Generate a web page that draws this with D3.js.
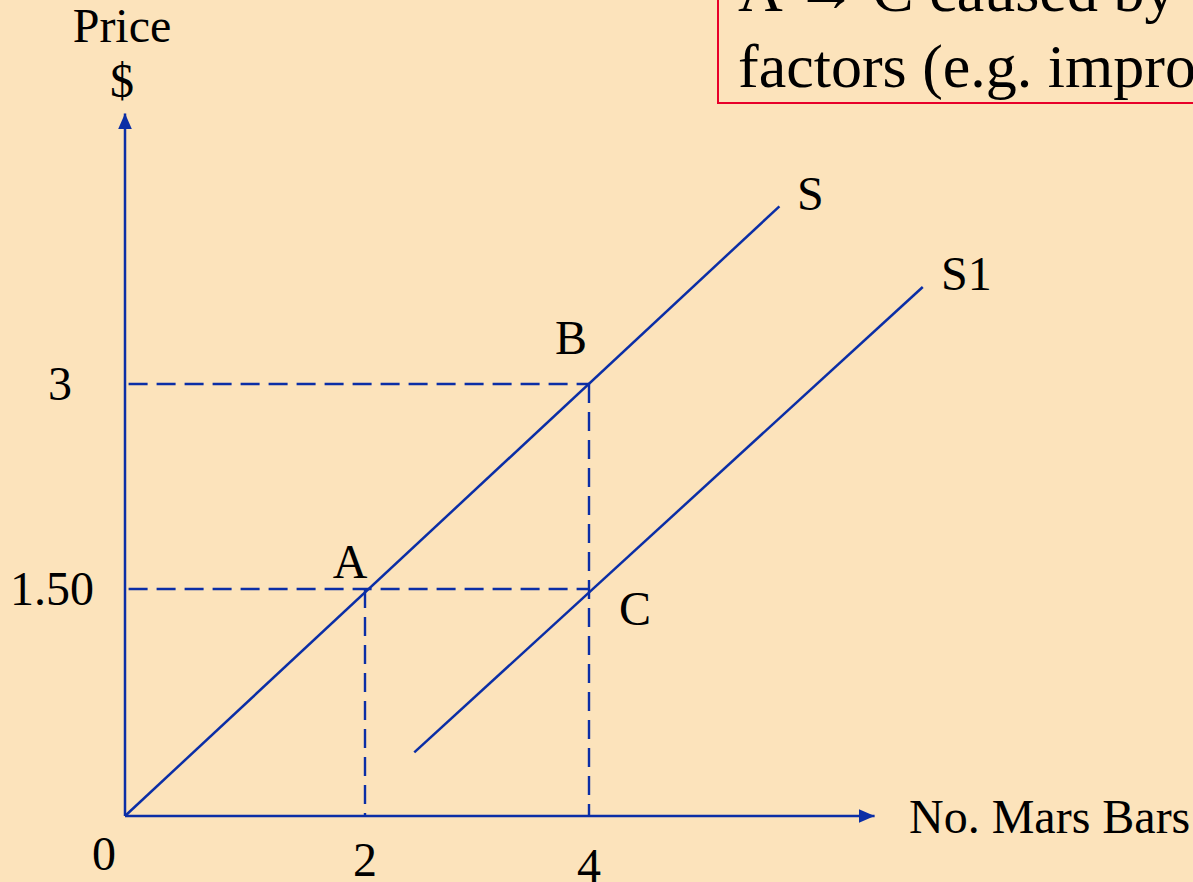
<!DOCTYPE html>
<html>
<head>
<meta charset="utf-8">
<script src="https://cdn.jsdelivr.net/npm/d3@7"></script>
<style>
  html, body { margin: 0; padding: 0; background: #fce3bb; }
  svg { display: block; }
  text { font-family: "Liberation Serif", "Times New Roman", serif; fill: #000; }
</style>
</head>
<body>
<script>
// quantities / prices
var qtyTicks = [0, 2, 4];
var qtyLabels = ["0", "2", "4"];
var priceTicks = [1.5, 3];
var priceLabels = ["1.50", "3"];

var supplyS = [{q: 0, p: 0}, {q: 5.7, p: 4.3}];
var supplyS1 = [{q: 2.44, p: 0.42}, {q: 6.98, p: 3.71}];

var pointNames = ["A", "B", "C"];
var pointQ = [2, 4, 4];
var pointP = [1.5, 3, 1.5];

var axisMax = {q: 6.55, p: 4.98};
var boxLines = ["A \u2192 C caused by other", "factors (e.g. improved"];

var width = 1193, height = 882;
var blue = "#0b2ea6";

var svg = d3.select("body").append("svg")
    .attr("width", width)
    .attr("height", height);

svg.append("rect").attr("width", width).attr("height", height).attr("fill", "#fce3bb");

// hand-drawn diagram, so the spacing isn't even -> piecewise scales
var x = d3.scaleLinear().domain([0, 2, 4]).range([125, 365, 589]);
var y = d3.scaleLinear().domain([0, 1.5, 3]).range([816, 589, 384]);

var defs = svg.append("defs");
defs.append("marker")
    .attr("id", "arrow")
    .attr("viewBox", "0 0 16 14")
    .attr("refX", 16).attr("refY", 7)
    .attr("markerWidth", 16).attr("markerHeight", 14)
    .attr("markerUnits", "userSpaceOnUse")
    .attr("orient", "auto")
  .append("path")
    .attr("d", "M0,0L16,7L0,14Z")
    .attr("fill", blue);

// dashed guides
var dash = "19,9";
var guides = [
  [{q: 0.03, p: 3}, {q: 4, p: 3}],
  [{q: 0.03, p: 1.5}, {q: 4, p: 1.5}],
  [{q: 2, p: 1.5}, {q: 2, p: 0}],
  [{q: 4, p: 3}, {q: 4, p: 0}]
];
var line = d3.line().x(d => x(d.q)).y(d => y(d.p));

svg.selectAll(".guide")
    .data(guides)
  .enter().append("path")
    .attr("class", "guide")
    .attr("d", line)
    .attr("fill", "none")
    .attr("stroke", blue)
    .attr("stroke-width", 2.4)
    .attr("stroke-dasharray", dash);

// axes
svg.append("path")
    .attr("d", line([{q: 0, p: 0}, {q: 0, p: axisMax.p}]))
    .attr("stroke", blue).attr("stroke-width", 2.5)
    .attr("marker-end", "url(#arrow)");
svg.append("path")
    .attr("d", line([{q: 0, p: 0}, {q: axisMax.q, p: 0}]))
    .attr("stroke", blue).attr("stroke-width", 2.5)
    .attr("marker-end", "url(#arrow)");

// supply curves
[supplyS, supplyS1].forEach(function (s) {
  svg.append("path")
      .attr("d", line(s))
      .attr("fill", "none")
      .attr("stroke", blue)
      .attr("stroke-width", 2.5);
});

var fs = "48px";

svg.append("text").attr("x", 122).attr("y", 42).attr("text-anchor", "middle")
    .style("font-size", fs).text("Price");
svg.append("text").attr("x", 122).attr("y", 97).attr("text-anchor", "middle")
    .style("font-size", fs).text("$");
svg.append("text").attr("x", 909).attr("y", 833)
    .style("font-size", fs).text("No. Mars Bars");

// tick labels
qtyTicks.forEach(function (q, i) {
  svg.append("text")
      .attr("x", q === 0 ? x(q) - 21 : x(q))
      .attr("y", [870, 876, 882][i])
      .attr("text-anchor", "middle")
      .style("font-size", fs)
      .text(qtyLabels[i]);
});
priceTicks.forEach(function (p, i) {
  svg.append("text")
      .attr("x", p === 3 ? 60 : 52)
      .attr("y", y(p) + 16)
      .attr("text-anchor", "middle")
      .style("font-size", fs)
      .text(priceLabels[i]);
});

// point labels
var pointOffset = [[-15, -11], [-18, -30], [46, 36]];
pointNames.forEach(function (n, i) {
  svg.append("text")
      .attr("x", x(pointQ[i]) + pointOffset[i][0])
      .attr("y", y(pointP[i]) + pointOffset[i][1])
      .attr("text-anchor", "middle")
      .style("font-size", fs)
      .text(n);
});

svg.append("text").attr("x", 797).attr("y", 210).style("font-size", fs).text("S");
svg.append("text").attr("x", 941).attr("y", 290).style("font-size", fs).text("S1");

// explanation box, runs off the top/right of the slide
svg.append("rect")
    .attr("x", 718).attr("y", -10)
    .attr("width", 520).attr("height", 113)
    .attr("fill", "none")
    .attr("stroke", "#e8002a")
    .attr("stroke-width", 2);

boxLines.forEach(function (t, i) {
  svg.append("text")
      .attr("x", 738).attr("y", 11 + i * 76)
      .style("font-size", "62px")
      .text(t);
});
</script>
</body>
</html>
